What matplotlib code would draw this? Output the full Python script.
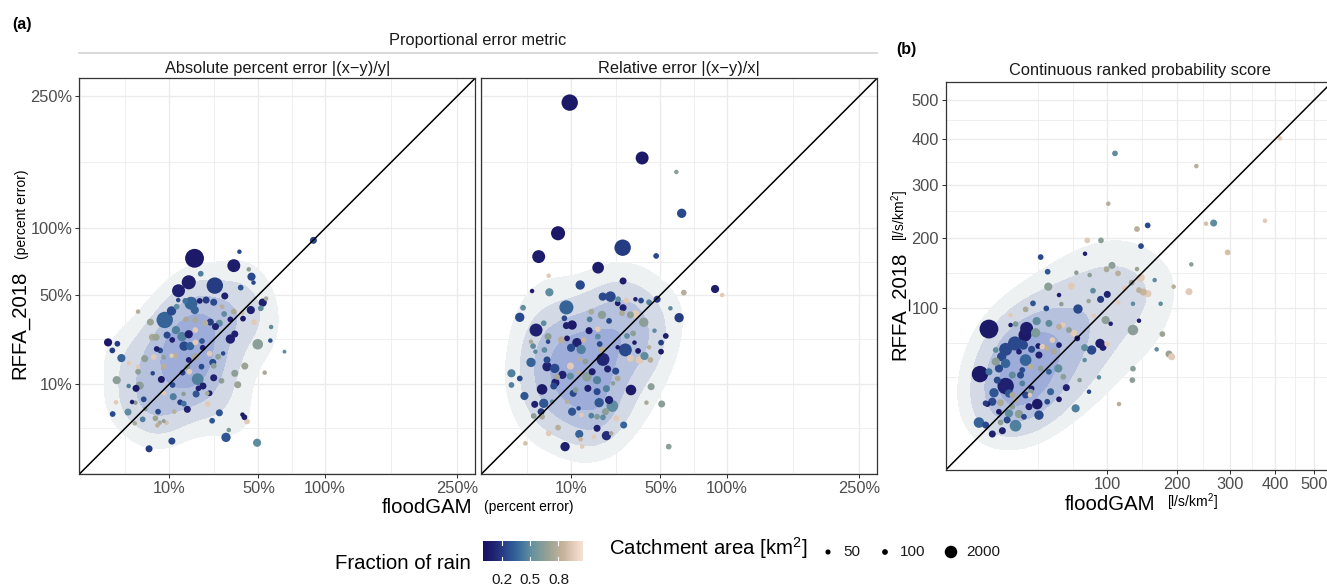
import numpy as np
import matplotlib.pyplot as plt
from matplotlib.colors import LinearSegmentedColormap, Normalize
from matplotlib.lines import Line2D

plt.rcParams['font.family'] = ['Liberation Sans', 'DejaVu Sans']
plt.rcParams['mathtext.fontset'] = 'custom'
plt.rcParams['mathtext.rm'] = 'Liberation Sans'
plt.rcParams['mathtext.it'] = 'Liberation Sans:italic'

# ---------------- data ----------------
# (a) left: absolute percent error |(x-y)/y|  [%]
ape_floodgam = [18.2, 35.9, 38.9, 20.6, 16.1, 12.7, 26.6, 31.3, 44.2, 45.8,
                47.0, 39.6, 52.7, 54.9, 51.5, 45.4, 47.4, 58.2, 57.7, 67.5,
                49.6, 41.9, 54.0, 38.0, 36.4, 29.7, 26.1, 24.3, 23.5, 28.7,
                25.4, 40.6, 41.7, 43.2, 33.3, 31.9, 49.2, 10.7, 5.15, 0.22,
                0.77, 0.43, 1.11, 1.93, 3.19, 4.32, 0.72, 1.89, 2.88, 3.46,
                3.19, 0.67, 2.32, 2.79, 4.14, 0.45, 1.81, 4.44, 3.96, 2.69,
                6.49, 7.5, 9.19, 7.1, 6.95, 8.49, 11.4, 15.6, 13.2, 14.4,
                11.1, 14.3, 8.57, 18.8, 19.7, 21.5, 23.3, 19.4, 10.9, 7.9,
                5.9, 8.49, 6.12, 6.79, 5.84, 6.64, 5.42, 3.19, 8.75, 10.6,
                12.1, 12.6, 14.9, 16.9, 18.3, 20.2, 22.8, 26.1, 30.0, 31.0,
                34.1, 35.9, 40.9, 40.4, 36.4, 34.1, 30.5, 28.1, 25.7, 26.1,
                24.3, 21.4, 21.1, 18.5, 16.6, 14.5, 11.7, 10.6, 8.49, 7.58,
                10.8, 9.36, 11.9, 15.2, 18.5, 16.1, 18.5, 22.5, 24.6, 26.9,
                28.7, 18.5, 16.1, 15.6, 14.0, 16.3, 20.9, 13.8, 90.0]
ape_rffa = [75.4, 69.9, 80.5, 64.1, 58.2, 52.7, 56.0, 49.4, 67.2, 62.0,
            58.0, 54.7, 45.4, 47.8, 42.1, 41.1, 34.5, 32.1, 25.7, 21.0,
            24.1, 15.6, 13.4, 9.8, 13.2, 10.9, 11.8, 7.6, 5.2, 3.6,
            2.4, 3.3, 2.9, 2.3, 1.3, 0.67, 0.34, 0.43, 0.10, 24.9,
            24.3, 21.5, 18.5, 16.6, 15.3, 18.3, 11.1, 9.45, 8.83, 9.54,
            13.7, 5.56, 5.63, 5.49, 6.2, 3.4, 3.73, 4.26, 2.59, 2.06,
            2.74, 2.14, 2.14, 3.79, 1.81, 2.36, 3.79, 4.2, 5.56, 5.28,
            6.79, 7.42, 7.58, 7.42, 8.83, 9.45, 7.58, 11.4, 9.73, 11.3,
            13.2, 15.4, 18.9, 22.1, 27.2, 27.2, 34.6, 40.2, 35.7, 40.6,
            43.0, 46.9, 46.4, 45.0, 41.1, 46.4, 46.9, 45.6, 43.0, 38.9,
            36.0, 40.2, 36.4, 39.6, 28.7, 26.4, 20.3, 19.0, 16.9, 15.7,
            20.2, 22.6, 25.5, 24.9, 23.3, 23.3, 19.4, 19.4, 18.8, 21.5,
            26.0, 28.2, 30.6, 36.0, 35.7, 28.6, 30.6, 34.0, 34.6, 32.3,
            34.0, 19.0, 17.8, 15.2, 13.4, 13.7, 15.4, 27.5, 89.7]
ape_rain = [0.05, 0.08, 0.25, 0.45, 0.08, 0.10, 0.20, 0.10, 0.65, 0.25,
            0.25, 0.30, 0.10, 0.75, 0.50, 0.10, 0.95, 0.50, 0.30, 0.50,
            0.65, 0.70, 0.75, 0.70, 0.65, 0.65, 0.10, 0.10, 0.95, 0.30,
            0.30, 0.05, 0.10, 0.95, 0.60, 0.30, 0.50, 0.25, 0.20, 0.05,
            0.20, 0.20, 0.35, 0.95, 0.95, 0.65, 0.65, 0.45, 0.05, 0.65,
            0.65, 0.95, 0.10, 0.65, 0.25, 0.25, 0.50, 0.65, 0.45, 0.75,
            0.70, 0.75, 0.90, 0.25, 0.80, 0.65, 0.80, 0.10, 0.20, 0.40,
            0.45, 0.65, 0.95, 0.30, 0.10, 0.10, 0.75, 0.45, 0.25, 0.05,
            0.25, 0.80, 0.95, 0.10, 0.75, 0.70, 0.70, 0.80, 0.35, 0.25,
            0.50, 0.25, 0.40, 0.35, 0.35, 0.10, 0.20, 0.25, 0.80, 0.50,
            0.10, 0.75, 0.05, 0.90, 0.10, 0.10, 0.25, 0.65, 0.25, 0.65,
            0.95, 0.10, 0.30, 0.95, 0.35, 0.25, 0.80, 0.95, 0.65, 0.25,
            0.10, 0.25, 0.45, 0.75, 0.75, 0.10, 0.95, 0.80, 0.20, 0.10,
            0.50, 0.75, 0.10, 0.65, 0.20, 0.95, 0.25, 0.45, 0.25]
ape_area = [6000, 2200, 20, 100, 2800, 2200, 4200, 270, 20, 500,
            20, 100, 500, 20, 100, 500, 100, 20, 20, 10,
            1200, 270, 20, 270, 270, 100, 270, 100, 100, 270,
            100, 20, 100, 100, 20, 800, 500, 270, 270, 500,
            100, 100, 500, 20, 20, 270, 500, 20, 270, 500,
            100, 20, 20, 20, 100, 100, 270, 20, 100, 20,
            100, 20, 20, 100, 20, 10, 20, 270, 100, 100,
            270, 20, 20, 270, 100, 270, 20, 1650, 100, 270,
            20, 100, 100, 100, 270, 270, 270, 20, 4200, 800,
            100, 20, 100, 2200, 500, 100, 270, 270, 20, 100,
            100, 100, 100, 20, 270, 800, 20, 100, 270, 100,
            100, 100, 100, 100, 500, 800, 100, 20, 20, 100,
            100, 270, 500, 100, 100, 500, 100, 100, 270, 270,
            270, 270, 100, 100, 100, 100, 100, 800, 270]

# (a) right: relative error |(x-y)/x|  [%]
rel_floodgam = [9.54, 39.3, 60.4, 64.1, 6.64, 29.3, 2.98, 47.4, 18.8, 89.7, 95.7,
                4.69, 12.6, 29.5, 2.06, 4.82, 65.6, 1.08, 0.80, 2.59, 8.66,
                20.6, 23.8, 27.0, 27.2, 31.0, 29.5, 35.7, 38.7, 43.2, 48.0,
                62.3, 56.4, 46.4, 53.4, 50.4, 50.4, 43.2, 40.6, 38.0, 44.4,
                33.4, 50.8, 41.7, 29.8, 55.3, 22.1, 24.1, 18.4, 12.3, 13.2,
                8.32, 17.2, 12.7, 6.64, 4.69, 1.30, 18.4, 20.7, 24.6, 23.2,
                19.2, 26.4, 21.7, 16.3, 13.0, 10.2, 12.1, 8.83, 10.5, 3.79,
                2.41, 3.35, 2.27, 3.51, 5.35, 1.21, 0.28, 0.28, 0.80, 1.93,
                2.19, 1.93, 2.50, 4.38, 4.38, 3.91, 4.57, 4.57, 3.79, 5.91,
                6.42, 6.05, 3.51, 5.70, 9.73, 9.73, 7.66, 12.1, 14.8, 18.4,
                16.6, 20.7, 22.6, 26.1, 27.0, 24.9, 22.1, 18.4, 15.1, 11.2,
                30.6, 33.1, 27.0, 31.4, 34.5, 35.2, 40.2, 35.7, 33.1, 29.0,
                23.2, 20.3, 16.3, 15.7, 15.5, 18.7, 18.7, 13.7, 11.6, 12.9,
                9.91, 8.83, 7.42, 8.66, 10.2, 8.15, 20.3, 19.4, 14.3, 12.5,
                44.0, 37.1]
rel_rffa = [240.9, 171.3, 155.6, 113.6, 95.7, 83.7, 76.7, 77.2, 68.4, 53.8, 50.0,
            62.7, 56.4, 59.1, 52.5, 51.7, 51.5, 42.4, 37.1, 30.6, 42.6,
            49.0, 49.0, 45.0, 47.4, 46.6, 42.4, 47.4, 46.6, 45.6, 47.4,
            36.9, 42.1, 30.3, 27.8, 24.8, 21.0, 22.8, 19.3, 17.8, 9.27,
            8.40, 5.22, 5.49, 1.85, 0.17, 0.80, 0.99, 1.48, 0.93, 0.17,
            0.17, 0.72, 0.54, 1.55, 0.99, 0.31, 2.98, 2.88, 4.82, 6.05,
            5.49, 2.74, 3.79, 3.14, 3.24, 3.79, 4.38, 5.70, 7.58, 5.35,
            5.15, 3.79, 3.09, 2.98, 5.70, 6.95, 9.73, 13.2, 11.6, 16.9,
            23.3, 25.2, 21.0, 15.4, 17.8, 21.7, 27.5, 25.2, 34.0, 14.8,
            12.1, 10.4, 8.57, 9.45, 12.3, 15.6, 12.7, 13.4, 12.1, 11.1,
            13.7, 18.0, 14.6, 13.9, 11.6, 10.2, 8.75, 7.99, 8.83, 8.40,
            21.7, 18.4, 22.8, 27.8, 29.0, 24.8, 34.5, 38.7, 38.4, 39.3,
            35.2, 38.4, 40.2, 36.0, 30.3, 31.0, 27.5, 26.0, 24.8, 21.9,
            22.6, 26.7, 26.0, 32.8, 33.1, 36.6, 21.7, 24.2, 17.2, 18.0,
            17.8, 21.3]
rel_rain = [0.05, 0.05, 0.65, 0.25, 0.05, 0.20, 0.08, 0.25, 0.08, 0.08, 0.95,
            0.95, 0.25, 0.08, 0.10, 0.50, 0.80, 0.50, 0.25, 0.10, 0.35,
            0.25, 0.25, 0.08, 0.50, 0.95, 0.10, 0.10, 0.25, 0.45, 0.20,
            0.20, 0.50, 0.50, 0.08, 0.20, 0.05, 0.80, 0.50, 0.95, 0.65,
            0.05, 0.65, 0.75, 0.35, 0.65, 0.15, 0.75, 0.10, 0.35, 0.95,
            0.10, 0.95, 0.85, 0.80, 0.95, 0.90, 0.60, 0.50, 0.50, 0.10,
            0.30, 0.95, 0.65, 0.45, 0.95, 0.30, 0.25, 0.80, 0.25, 0.30,
            0.10, 0.20, 0.65, 0.75, 0.50, 0.30, 0.45, 0.45, 0.25, 0.35,
            0.50, 0.75, 0.50, 0.10, 0.25, 0.50, 0.65, 0.25, 0.50, 0.25,
            0.75, 0.10, 0.05, 0.25, 0.50, 0.95, 0.10, 0.80, 0.65, 0.45,
            0.08, 0.12, 0.10, 0.25, 0.75, 0.65, 0.45, 0.25, 0.08, 0.65,
            0.25, 0.95, 0.05, 0.50, 0.65, 0.05, 0.65, 0.95, 0.65, 0.75,
            0.25, 0.65, 0.75, 0.45, 0.05, 0.95, 0.50, 0.85, 0.10, 0.45,
            0.25, 0.05, 0.80, 0.10, 0.05, 0.25, 0.80, 0.25, 0.65, 0.80,
            0.80, 0.05]
rel_area = [4200, 2200, 20, 800, 2800, 4200, 2200, 100, 1650, 500, 20,
            20, 800, 270, 20, 500, 100, 100, 800, 2200, 2800,
            500, 1200, 100, 100, 100, 270, 20, 100, 100, 270,
            800, 20, 20, 100, 100, 100, 20, 500, 500, 270,
            1200, 270, 20, 270, 100, 800, 20, 270, 500, 20,
            800, 20, 20, 100, 100, 20, 100, 100, 1650, 500,
            800, 100, 270, 100, 20, 500, 20, 20, 270, 800,
            270, 270, 100, 100, 20, 500, 100, 500, 100, 800,
            100, 20, 20, 800, 270, 100, 270, 20, 100, 800,
            100, 500, 1200, 270, 270, 270, 500, 20, 800, 500,
            270, 2200, 270, 270, 100, 20, 270, 270, 270, 100,
            2200, 270, 20, 100, 100, 20, 800, 500, 270, 100,
            100, 500, 100, 100, 270, 100, 100, 100, 800, 800,
            500, 100, 270, 270, 800, 100, 270, 100, 100, 20,
            100, 100]

# (b) continuous ranked probability score [l/s/km2]
crps_floodgam = [109.4, 234.5, 101.2, 138.6, 154.0, 252.5, 267.2, 376.7, 77.6, 92.6,
                 144.3, 295.2, 75.2, 36.3, 41.5, 66.5, 80.1, 105.7, 99.2, 113.2,
                 138.6, 225.4, 143.8, 164.5, 194.9, 221.3, 61.7, 42.0, 83.7, 100.0,
                 92.2, 122.2, 131.2, 141.4, 147.6, 154.5, 113.6, 133.0, 173.8, 79.0,
                 52.7, 50.7, 68.1, 98.1, 104.1, 141.4, 133.0, 176.5, 167.6, 187.2,
                 191.6, 84.4, 91.5, 94.9, 100.0, 82.2, 74.8, 74.8, 133.0, 132.1,
                 412.3, 114.5,
                 8.65, 5.78, 17.9, 20.5, 26.3, 31.0, 26.9, 25.9, 33.5, 32.8,
                 20.2, 15.5, 11.2, 22.4, 24.9, 26.3, 30.1, 34.6, 11.2, 13.7,
                 15.5, 12.5, 8.65, 15.5, 10.5, 13.2, 8.08, 9.86, 5.5, 7.52,
                 9.86, 14.0, 17.1, 20.5, 13.2, 22.4, 35.1, 33.9, 29.0, 30.1,
                 26.3, 18.8, 24.3, 41.2, 43.8, 50.7, 57.1, 50.1, 54.4, 65.8,
                 79.4, 90.3, 69.7,
                 17.9, 40.5, 42.5, 50.7, 54.1, 59.5, 64.2, 67.4, 45.2, 37.5,
                 41.2, 46.5, 50.7, 35.1, 29.5, 36.3, 42.5, 24.3, 18.8, 23.3,
                 17.1, 20.5, 28.4, 18.8, 12.5, 16.2, 25.3, 29.5, 11.8, 7.5]
crps_rffa = [367.5, 339.2, 261.8, 215.4, 221.8, 224.8, 226.0, 230.1, 196.1, 196.1,
             186.7, 176.6, 174.5, 169.3, 147.4, 146.0, 142.6, 156.7, 150.8, 145.0,
             151.3, 158.2, 138.9, 135.6, 126.6, 120.0, 127.4, 126.6, 121.3, 116.5,
             110.2, 124.3, 132.0, 122.1, 119.5, 117.4, 106.5, 104.8, 104.8, 108.1,
             104.4, 115.7, 98.5, 85.9, 81.9, 85.2, 75.3, 71.2, 56.7, 52.6,
             50.3, 90.8, 62.1, 58.5, 61.5, 56.1, 58.2, 47.5, 40.7, 32.5,
             402.4, 18.3,
             76.3, 36.7, 80.5, 81.6, 98.1, 105.3, 77.0, 70.2, 84.8, 72.5,
             62.1, 56.7, 56.1, 54.6, 60.6, 47.5, 56.7, 59.7, 46.2, 50.3,
             44.8, 40.9, 38.4, 28.6, 24.5, 19.0, 18.3, 19.5, 10.1, 9.19,
             6.24, 7.26, 13.9, 8.95, 10.2, 13.6, 13.1, 18.3, 23.2, 27.1,
             23.2, 23.2, 30.3, 19.5, 25.1, 20.8, 27.6, 40.9, 34.8, 16.2,
             25.1, 34.4, 32.5,
             91.5, 99.2, 82.3, 78.7, 80.5, 75.3, 71.9, 66.9, 65.3, 59.1,
             57.6, 54.6, 60.6, 51.7, 42.2, 40.9, 38.4, 39.7, 36.0, 36.0,
             24.1, 20.4, 17.0, 17.0, 14.6, 11.1, 12.4, 25.1, 32.5, 18.7]
crps_rain = [0.50, 0.80, 0.80, 0.80, 0.25, 0.90, 0.50, 0.95, 0.95, 0.65,
             0.25, 0.90, 0.10, 0.25, 0.30, 0.65, 0.65, 0.65, 0.75, 0.80,
             0.70, 0.65, 0.95, 0.50, 0.80, 0.95, 0.95, 0.65, 0.50, 0.10,
             0.20, 0.95, 0.70, 0.80, 0.85, 0.95, 0.95, 0.50, 0.50, 0.70,
             0.65, 0.10, 0.25, 0.65, 0.10, 0.10, 0.65, 0.70, 0.50, 0.70,
             0.95, 0.95, 0.08, 0.08, 0.95, 0.25, 0.50, 0.50, 0.65, 0.65,
             0.95, 0.80,
             0.05, 0.05, 0.10, 0.60, 0.75, 0.30, 0.08, 0.05, 0.50, 0.60,
             0.25, 0.25, 0.50, 0.10, 0.25, 0.35, 0.25, 0.05, 0.65, 0.25,
             0.35, 0.25, 0.40, 0.10, 0.30, 0.75, 0.05, 0.25, 0.35, 0.25,
             0.10, 0.10, 0.50, 0.45, 0.65, 0.65, 0.25, 0.05, 0.95, 0.08,
             0.25, 0.75, 0.45, 0.25, 0.35, 0.05, 0.10, 0.50, 0.65, 0.45,
             0.25, 0.50, 0.65,
             0.95, 0.25, 0.50, 0.80, 0.95, 0.65, 0.95, 0.05, 0.95, 0.95,
             0.80, 0.75, 0.10, 0.10, 0.80, 0.65, 0.35, 0.25, 0.50, 0.25,
             0.30, 0.80, 0.10, 0.65, 0.05, 0.25, 0.25, 0.65, 0.25, 0.20]
crps_area = [100, 20, 20, 100, 100, 20, 270, 20, 100, 100,
             100, 100, 20, 100, 100, 20, 20, 270, 100, 100,
             20, 20, 500, 20, 20, 270, 270, 500, 100, 270,
             270, 100, 100, 100, 270, 270, 20, 20, 20, 20,
             20, 20, 800, 500, 20, 20, 1200, 100, 20, 270,
             270, 20, 800, 270, 100, 800, 270, 20, 100, 100,
             20, 20,
             6000, 4200, 20, 100, 100, 100, 2200, 2200, 500, 800,
             2800, 2200, 100, 100, 800, 1650, 270, 100, 500, 800,
             800, 500, 270, 4200, 800, 270, 100, 500, 1200, 270,
             270, 270, 500, 1650, 100, 500, 800, 1200, 20, 100,
             270, 100, 100, 100, 270, 100, 270, 500, 100, 500,
             20, 20, 20,
             20, 100, 270, 100, 100, 100, 270, 100, 100, 100,
             100, 100, 100, 270, 100, 100, 100, 100, 270, 270,
             500, 100, 270, 100, 100, 270, 100, 100, 270, 100]

pct_ticks = [10, 50, 100, 250]
pct_labels = ['10%', '50%', '100%', '250%']
pct_minor = [-0.56, 1.46, 26.2, 72.9, 166.4]
crps_ticks = [100, 200, 300, 400, 500]
crps_minor = [34.3, 62.9, 145.7, 247.5, 348.2, 448.6]
rain_ticks = [0.2, 0.5, 0.8]
area_legend = [50, 100, 2000]

# ---------------- helpers ----------------
W, H = 1327, 585
fig = plt.figure(figsize=(W / 100, H / 100), dpi=100)

rain_cmap = LinearSegmentedColormap.from_list('rain', [
    (0.00, '#1a1260'), (0.10, '#1f2170'), (0.25, '#2a4d8f'), (0.35, '#396a9c'),
    (0.50, '#6994a0'), (0.65, '#97a294'), (0.80, '#c6b39c'), (0.95, '#f0d6c6'),
    (1.00, '#f6e1d6')])
rain_norm = Normalize(0, 1.06)

AREA_MIN, AREA_MAX = 10, 10200
TXT = 11.8


def marker_size(area):
    a = np.clip((np.asarray(area, float) - AREA_MIN) / (AREA_MAX - AREA_MIN), 0, 1)
    d = 3.9 * (1 + 5 * np.sqrt(a))  # diameter in px
    return (d * 0.72) ** 2


def fwd(v):
    v = np.asarray(v, float)
    return np.sign(v) * np.sqrt(np.abs(v))


def inv(v):
    v = np.asarray(v, float)
    return np.sign(v) * v ** 2


def add_ax(x0, y0, x1, y1):
    return fig.add_axes([x0 / W, 1 - y1 / H, (x1 - x0) / W, (y1 - y0) / H])


def ftxt(x, y, s, **kw):
    return fig.text(x / W, 1 - y / H, s, **kw)


def nrd(v):
    q75, q25 = np.percentile(v, [75, 25])
    return 1.06 * min(np.std(v, ddof=1), (q75 - q25) / 1.34) * len(v) ** -0.2


def density(ax, x, y, lim, adjust=1.3, low=0.25):
    sx, sy = fwd(x), fwd(y)
    g = np.linspace(fwd(lim[0]), fwd(lim[1]), 220)
    gx, gy = np.meshgrid(g, g)
    hx, hy = nrd(sx) * adjust, nrd(sy) * adjust
    z = np.zeros_like(gx)
    for a, b in zip(sx, sy):
        z += np.exp(-0.5 * (((gx - a) / hx) ** 2 + ((gy - b) / hy) ** 2))
    z /= z.max()
    ax.contourf(inv(gx), inv(gy), z, levels=[low, 0.45, 0.66, 0.85, 1.01],
                colors=['#eef1f1', '#d4dae5', '#b6c1de', '#9dacd8'], zorder=1)


def panel(ax, x, y, rain, area, lim, ticks, labels, minor, show_y=True,
          low=0.25):
    ax.set_xscale('function', functions=(fwd, inv))
    ax.set_yscale('function', functions=(fwd, inv))
    ax.set_xlim(lim)
    ax.set_ylim(lim)
    ax.set_xticks(ticks)
    ax.set_xticklabels(labels)
    ax.set_yticks(ticks)
    ax.set_yticklabels(labels)
    ax.set_xticks(minor, minor=True)
    ax.set_yticks(minor, minor=True)
    ax.grid(which='major', color='#ebebeb', lw=1.0, zorder=0)
    ax.grid(which='minor', color='#ebebeb', lw=0.55, zorder=0)
    ax.set_axisbelow(True)
    ax.tick_params(which='minor', length=0)
    ax.tick_params(which='major', length=2.8, width=0.75, color='#333333',
                   labelsize=TXT, labelcolor='#4d4d4d', pad=2)
    if not show_y:
        ax.tick_params(axis='y', which='both', left=False, labelleft=False)
    for sp in ax.spines.values():
        sp.set_color('#333333')
        sp.set_linewidth(0.9)
        sp.set_zorder(5)

    density(ax, x, y, lim, low=low)
    order = np.argsort(-np.asarray(area, float))
    xs, ys = np.asarray(x)[order], np.asarray(y)[order]
    ax.scatter(xs, ys, s=marker_size(np.asarray(area)[order]),
               c=np.asarray(rain)[order], cmap=rain_cmap, norm=rain_norm,
               edgecolors='none', zorder=3)
    ax.plot(lim, lim, color='black', lw=1.1, zorder=4)


# ---------------- panels ----------------
pct_lim = (-0.624, 275.6)
ax1 = add_ax(79.4, 78, 475.4, 474)
panel(ax1, ape_floodgam, ape_rffa, ape_rain, ape_area, pct_lim,
      pct_ticks, pct_labels, pct_minor)
ax2 = add_ax(481.4, 78, 877.4, 474)
panel(ax2, rel_floodgam, rel_rffa, rel_rain, rel_area, pct_lim,
      pct_ticks, pct_labels, pct_minor, show_y=False)

crps_lim = (0.13, 549.0)
ax3 = add_ax(945.7, 81.7, 1332.4, 470)
panel(ax3, crps_floodgam, crps_rffa, crps_rain, crps_area, crps_lim,
      crps_ticks, [str(t) for t in crps_ticks], crps_minor, low=0.28)

# ---------------- strips, titles ----------------
ftxt(478, 41, 'Proportional error metric', ha='center', va='center',
     fontsize=TXT, color='#1a1a1a')
fig.add_artist(Line2D([79.4 / W, 877.4 / W], [1 - 53 / H, 1 - 53 / H],
                      color='#d9d9d9', lw=1.4))
ftxt(277.4, 68, 'Absolute percent error |(x\u2212y)/y|', ha='center',
     va='center', fontsize=TXT, color='#1a1a1a')
ftxt(679.4, 68, 'Relative error |(x\u2212y)/x|', ha='center', va='center',
     fontsize=TXT, color='#1a1a1a')
ftxt(1140, 70, 'Continuous ranked probability score', ha='center',
     va='center', fontsize=TXT, color='#1a1a1a')

ftxt(12, 29, '(a)', fontsize=11.5, fontweight='bold', va='baseline')
ftxt(896, 54, '(b)', fontsize=11.5, fontweight='bold', va='baseline')

# axis titles
ftxt(427.5, 513, 'floodGAM', fontsize=14.7, ha='center', va='baseline')
ftxt(529, 511, '(percent error)', fontsize=10, ha='center', va='baseline')
ftxt(1110, 510, 'floodGAM', fontsize=14.7, ha='center', va='baseline')
ftxt(1192, 507, '[l/s/km$^2$]', fontsize=10, ha='center', va='baseline')

ftxt(25, 325, 'RFFA_2018', fontsize=14.7, rotation=90, rotation_mode='anchor',
     ha='center', va='baseline')
ftxt(26, 214, '(percent error)', fontsize=10, rotation=90,
     rotation_mode='anchor', ha='center', va='baseline')
ftxt(905, 306, 'RFFA_2018', fontsize=14.7, rotation=90, rotation_mode='anchor',
     ha='center', va='baseline')
ftxt(905, 216, '[l/s/km$^2$]', fontsize=10, rotation=90,
     rotation_mode='anchor', ha='center', va='baseline')

# ---------------- legends ----------------
ftxt(471, 569, 'Fraction of rain', fontsize=14.7, ha='right', va='baseline')
cax = add_ax(483, 541, 583, 561)
grad = np.linspace(0, 1.06, 256)[None, :]
cax.imshow(grad, extent=[0, 1.06, 0, 1], aspect='auto', cmap=rain_cmap,
           norm=rain_norm, origin='lower')
cax.set_xlim(0, 1.06)
cax.set_ylim(0, 1)
for t in rain_ticks:
    cax.plot([t, t], [0, 0.22], color='white', lw=0.8)
    cax.plot([t, t], [0.78, 1], color='white', lw=0.8)
    cax.text(t, -1.15, str(t), ha='center', va='baseline', fontsize=11,
             color='#1a1a1a')
cax.axis('off')

ftxt(609, 555, 'Catchment area [km$^2$]', fontsize=14.7, ha='left',
     va='baseline')
lax = fig.add_axes([0, 0, 1, 1])
lax.set_xlim(0, W)
lax.set_ylim(H, 0)
lax.axis('off')
key_x = [828, 885, 951]
lax.scatter(key_x, [552] * 3, s=marker_size(area_legend), color='black',
            edgecolors='none')
for kx, a in zip(key_x, area_legend):
    lax.text(kx + 15, 556, str(a), fontsize=11, ha='left', va='baseline',
             color='#1a1a1a')

fig.savefig('out.png', dpi=100, facecolor='white')
